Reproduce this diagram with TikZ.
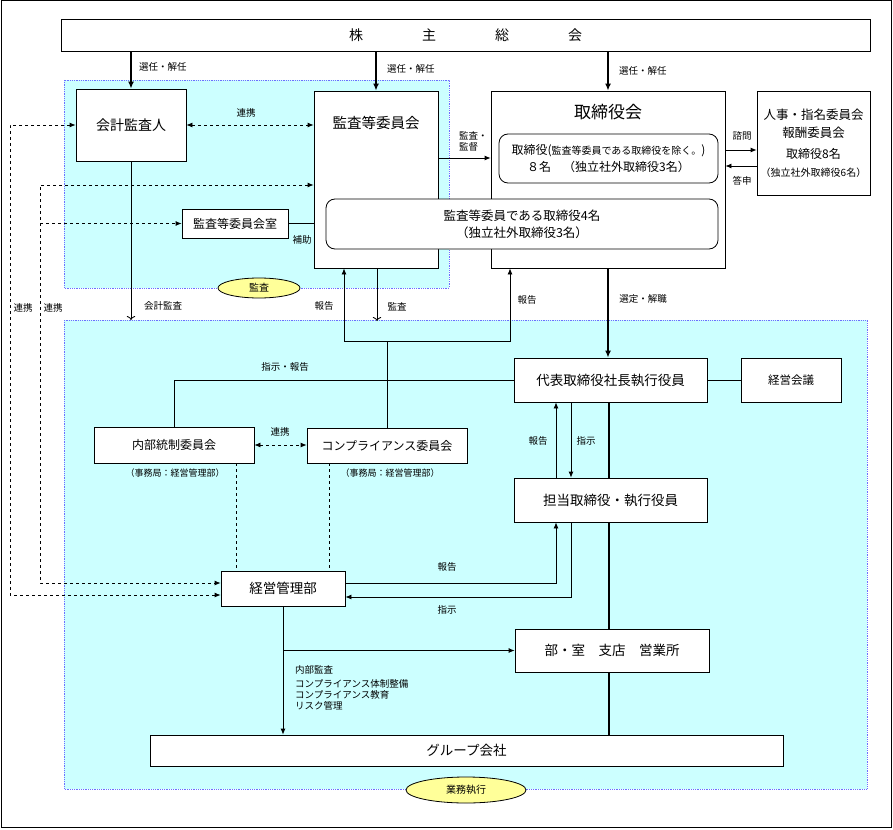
\documentclass[tikz,border=0pt]{standalone}
\usepackage{fontspec}
\setmainfont{Noto Sans CJK JP}
\usetikzlibrary{arrows.meta,shapes.geometric}
\definecolor{zonecyan}{RGB}{204,255,255}
\definecolor{zoneblue}{RGB}{110,110,255}
\definecolor{tagyellow}{RGB}{255,255,153}
\tikzset{
	box/.style={draw, fill=white, line width=0.8pt, inner sep=0pt, align=center},
	rbox/.style={box, rounded corners=9pt},
	zone/.style={fill=zonecyan, draw=zoneblue, densely dotted, line width=0.8pt},
	tag/.style={ellipse, draw, fill=tagyellow, line width=0.8pt, inner sep=0pt, font=\fontsize{10}{12}\selectfont},
	lbl/.style={inner sep=1pt, font=\fontsize{9.5}{11}\selectfont},
	conn/.style={line width=0.8pt},
	heavy/.style={line width=1.6pt},
	arr/.style={conn, -{Latex[length=6pt,width=5pt]}},
	bigarr/.style={heavy, -{Latex[length=7pt,width=6pt]}},
	openarr/.style={conn, -{To[length=4pt]}},
	duo/.style={conn, dashed, {Latex[length=6pt,width=5pt]}-{Latex[length=6pt,width=5pt]}},
	dasharr/.style={conn, dashed, -{Latex[length=6pt,width=5pt]}}
}

\begin{document}
\begin{tikzpicture}[x=1pt, y=-1pt]
		%%%%% START %%%%%
		\useasboundingbox (0,0) rectangle (893,829);
		\draw[line width=1pt] (1,1) rectangle (891,827);
		
		\draw[zone] (64,80) rectangle (449,288);
		\draw[zone] (64,320) rectangle (867,789);
		
		% boxes
		\node[box, minimum width=809pt, minimum height=32pt, font=\fontsize{14}{17}\selectfont] (soukai) at (465.5,35) {株\hspace{59pt}主\hspace{59pt}総\hspace{59pt}会};
		
		\node[box, minimum width=110pt, minimum height=72pt, font=\fontsize{14}{17}\selectfont] (kaikei) at (131,125) {会計監査人};
		\node[box, minimum width=124pt, minimum height=177pt] (kansaiin) at (376,179.5) {};
		\node[font=\fontsize{14.5}{17}\selectfont] (kansaiintitle) at (376,123) {監査等委員会};
		\node[box, minimum width=106pt, minimum height=29pt, font=\fontsize{12}{14}\selectfont] (shitsu) at (235,223.5) {監査等委員会室};
		
		\node[box, minimum width=234pt, minimum height=177pt] (torishimari) at (608,179.5) {};
		\node[font=\fontsize{17}{20}\selectfont] (torishimarititle) at (608,112) {取締役会};
		\node[rbox, minimum width=219pt, minimum height=49pt, font=\fontsize{12}{17}\selectfont] (inner1) at (608.5,158.5) {取締役({\fontsize{10}{12}\selectfont 監査等委員である取締役を除く。})\\８名　（独立社外取締役3名）};
		\node[rbox, minimum width=392pt, minimum height=50pt, font=\fontsize{12.5}{17}\selectfont] (inner2) at (522,224) {監査等委員である取締役4名\\（独立社外取締役3名）};
		
		\node[box, minimum width=113pt, minimum height=104pt, font=\fontsize{12.5}{18}\selectfont] (jinji) at (813.5,143) {人事・指名委員会\\報酬委員会\\[3pt]{\fontsize{12}{14}\selectfont 取締役8名}\\{\fontsize{10}{12}\selectfont （独立社外取締役6名）}};
		
		\node[box, minimum width=193pt, minimum height=44pt, font=\fontsize{13.5}{16}\selectfont] (daihyo) at (610.5,380) {代表取締役社長執行役員};
		\node[box, minimum width=100pt, minimum height=44pt, font=\fontsize{11.5}{14}\selectfont] (keiei) at (791,380) {経営会議};
		\node[box, minimum width=160pt, minimum height=36pt, font=\fontsize{12}{14}\selectfont] (naibu) at (174,445) {内部統制委員会};
		\node[box, minimum width=160pt, minimum height=35pt, font=\fontsize{12}{14}\selectfont] (comp) at (387,445.5) {コンプライアンス委員会};
		\node[box, minimum width=193pt, minimum height=44pt, font=\fontsize{13.5}{16}\selectfont] (tanto) at (610.5,500) {担当取締役・執行役員};
		\node[box, minimum width=124pt, minimum height=35pt, font=\fontsize{13.5}{16}\selectfont] (kanri) at (283,588.5) {経営管理部};
		\node[box, minimum width=194pt, minimum height=43pt, font=\fontsize{13.5}{16}\selectfont] (bu) at (612,650.5) {部・室　支店　営業所};
		\node[box, minimum width=633pt, minimum height=31pt, font=\fontsize{13.5}{16}\selectfont] (group) at (466.5,750.5) {グループ会社};
		
		% shareholders
		\draw[bigarr] (kaikei.north |- soukai.south) -- (kaikei.north);
		\draw[bigarr] (kansaiin.north |- soukai.south) -- (kansaiin.north);
		\draw[bigarr] (torishimari.north |- soukai.south) -- (torishimari.north);
		\node[lbl, anchor=west] (sel1) at (138,67) {選任・解任};
		\node[lbl, anchor=west] (sel2) at (386,69) {選任・解任};
		\node[lbl, anchor=west] (sel3) at (618,71) {選任・解任};
		
		% audit side
		\draw[duo] (kaikei.east) -- (kaikei.east -| kansaiin.west);
		\node[lbl] (renkei1) at (246,113) {連携};
		\draw[arr] (kansaiin.east |- 0,158) -- (torishimari.west |- 0,158);
		\node[lbl, anchor=west, align=left] (kantoku) at (458,141) {監査・\\監督};
		\draw[conn] (shitsu.east) -- (kansaiin.west |- shitsu.east);
		\node[lbl] (hojo) at (302,240) {補助};
		
		\draw[arr] (torishimari.east |- 0,150) -- (jinji.west |- 0,150);
		\draw[arr] (jinji.west |- 0,166) -- (torishimari.east |- 0,166);
		\node[lbl] (shimon) at (742,136) {諮問};
		\node[lbl] (toushin) at (742,181) {答申};
		
		\draw[duo] (kaikei.west) -| (10,595) -- (kanri.west |- 10,595);
		\draw[duo] (kansaiin.west |- 40,185) -| (40,583) -- (kanri.west |- 40,583);
		\draw[dasharr] (40,0 |- shitsu.west) -- (shitsu.west);
		\node[lbl] (renkei2) at (23,308) {連携};
		\node[lbl] (renkei3) at (53,308) {連携};
		
		\draw[openarr] (kaikei.south) -- (kaikei.south |- 0,320);
		\node[lbl] (kaikeikansa) at (163,306) {会計監査};
		\draw[openarr] (377,0 |- kansaiin.south) -- (377,321);
		\node[lbl] (kansa1) at (397,307) {監査};
		
		\draw[arr] (comp.north) |- (344,341) -- (344,0 |- kansaiin.south);
		\draw[arr] (comp.north |- 0,341) -- (510,341) -- (510,0 |- torishimari.south);
		\node[lbl] (houkoku1) at (324,306) {報告};
		\node[lbl] (houkoku2) at (527,300) {報告};
		
		% execution side
		\draw[bigarr] (torishimari.south) -- (torishimari.south |- daihyo.north);
		\node[lbl] (sentei) at (643,299) {選定・解職};
		\draw[conn] (daihyo.east) -- (keiei.west);
		
		\draw[conn] (naibu.north) |- (daihyo.west);
		\node[lbl] (shijihoukoku) at (285,367) {指示・報告};
		\draw[duo] (naibu.east) -- (comp.west |- naibu.east);
		\node[lbl] (renkei4) at (280,432) {連携};
		\node[lbl, font=\fontsize{9}{11}\selectfont] (jimu1) at (175,473) {（事務局：経営管理部）};
		\node[lbl, font=\fontsize{9}{11}\selectfont] (jimu2) at (390,473) {（事務局：経営管理部）};
		\draw[conn, dashed] (236,0 |- naibu.south) -- (236,0 |- kanri.north);
		\draw[conn, dashed] (329,0 |- comp.south) -- (329,0 |- kanri.north);
		
		\draw[arr] (556,0 |- tanto.north) -- (556,0 |- daihyo.south);
		\draw[arr] (571,0 |- daihyo.south) -- (571,0 |- tanto.north);
		\node[lbl] (houkoku3) at (538,441) {報告};
		\node[lbl] (shiji1) at (586,441) {指示};
		
		\draw[heavy] (609,0 |- daihyo.south) -- (609,0 |- tanto.north);
		\draw[heavy] (609,0 |- tanto.south) -- (609,0 |- bu.north);
		\draw[heavy] (609,0 |- bu.south) -- (609,0 |- group.north);
		
		\draw[arr] (kanri.east |- 0,583) -| (556,0 |- tanto.south);
		\draw[arr] (571,0 |- tanto.south) |- (kanri.east |- 0,597);
		\node[lbl] (houkoku4) at (447,567) {報告};
		\node[lbl] (shiji2) at (447,610) {指示};
		
		\draw[arr] (kanri.south) -- (kanri.south |- group.north);
		\draw[arr] (kanri.south |- bu.west) -- (bu.west);
		\node[lbl, anchor=north west, align=left] (gyomu) at (294,664) {内部監査\\[3pt]コンプライアンス体制整備\\コンプライアンス教育\\リスク管理};
		
		\node[tag, minimum width=82pt, minimum height=20pt] (kansatag) at (259,288) {監査};
		\node[tag, minimum width=120pt, minimum height=26pt] (gyomutag) at (466,790) {業務執行};
		%%%%% END %%%%%
\end{tikzpicture}
\end{document}
